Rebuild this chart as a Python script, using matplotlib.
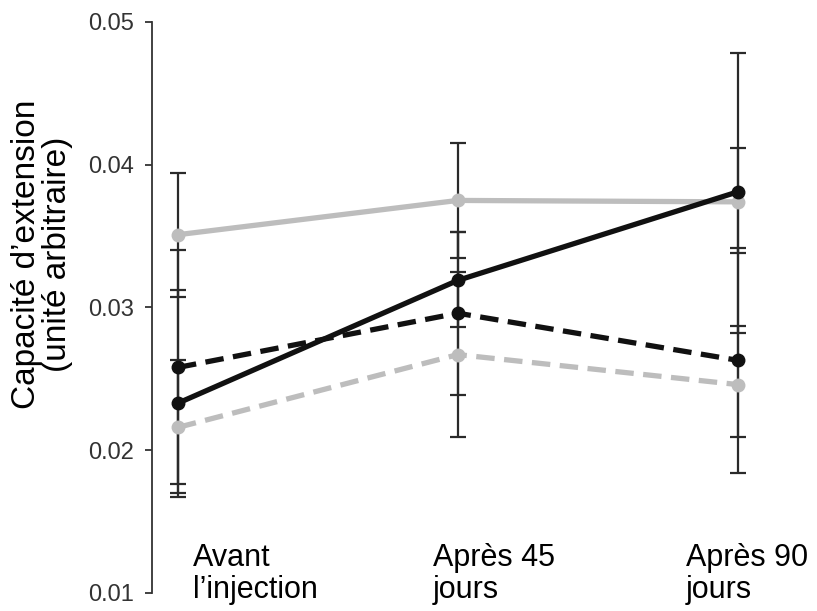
import matplotlib
matplotlib.use('Agg')
from matplotlib import pyplot as plt

plt.rcParams['font.family'] = ['Liberation Sans', 'DejaVu Sans']

groupes = ['Avant\nl\u2019injection', 'Apr\u00e8s 45\njours', 'Apr\u00e8s 90\njours']
x = [0, 1, 2]

# moyennes et bornes des barres d'erreur (haut / bas)
gris_plein = [0.0351, 0.0375, 0.0374]
gris_plein_haut = [0.0394, 0.0415, 0.0412]
gris_plein_bas = [0.0307, 0.0335, 0.0338]

noir_plein = [0.0233, 0.0319, 0.0381]
noir_plein_haut = [0.0312, 0.0353, 0.0478]
noir_plein_bas = [0.0167, 0.0286, 0.0282]

noir_tirets = [0.0258, 0.0296, 0.0263]
noir_tirets_haut = [0.0340, 0.0353, 0.0342]
noir_tirets_bas = [0.0176, 0.0239, 0.0184]

gris_tirets = [0.0216, 0.0267, 0.0246]
gris_tirets_haut = [0.0263, 0.0325, 0.0287]
gris_tirets_bas = [0.0170, 0.0209, 0.0209]

yticks = [0.01, 0.02, 0.03, 0.04, 0.05]

fig = plt.figure(figsize=(8.17, 6.11), dpi=100)
ax = fig.add_axes([0.186, 0.0295, 0.794, 0.9345])

series = [
    (gris_plein, gris_plein_haut, gris_plein_bas, '#bdbdbd', '-'),
    (noir_tirets, noir_tirets_haut, noir_tirets_bas, '#111111', (0, (3.5, 1.8))),
    (gris_tirets, gris_tirets_haut, gris_tirets_bas, '#bdbdbd', (0, (3.5, 1.8))),
    (noir_plein, noir_plein_haut, noir_plein_bas, '#111111', '-'),
]

for moy, haut, bas, col, ls in series:
    err = [[m - b for m, b in zip(moy, bas)], [h - m for m, h in zip(moy, haut)]]
    ax.errorbar(x, moy, yerr=err, fmt='none', ecolor='#2a2a2a', elinewidth=1.6,
                capsize=6, capthick=1.6, zorder=1)

for moy, haut, bas, col, ls in series:
    ax.plot(x, moy, color=col, linestyle=ls, linewidth=3.8, marker='o',
            markersize=9, zorder=3)

ax.set_ylim(0.01, 0.05)
ax.set_xlim(-0.093, 2.225)
ax.set_yticks(yticks)
ax.set_yticklabels(['%.2f' % t for t in yticks], fontsize=17, color='#333333')
ax.set_xticks([])
for s in ['top', 'right', 'bottom']:
    ax.spines[s].set_visible(False)
ax.spines['left'].set_color('#333333')
ax.spines['left'].set_linewidth(1.3)
ax.tick_params(axis='y', length=5, width=1.3, color='#333333', pad=8)

label_x = [0.054, 0.91, 1.814]
for lx, g in zip(label_x, groupes):
    ax.text(lx, 0.00965, g, fontsize=22, ha='left', va='baseline',
            linespacing=1.1, clip_on=False)

fig.text(0.051, 0.583, 'Capacit\u00e9 d\u2019extension\n(unit\u00e9 arbitraire)',
         rotation=90, ha='center', va='center', fontsize=24,
         multialignment='center', linespacing=1.0)

fig.savefig('out.png', dpi=100)
